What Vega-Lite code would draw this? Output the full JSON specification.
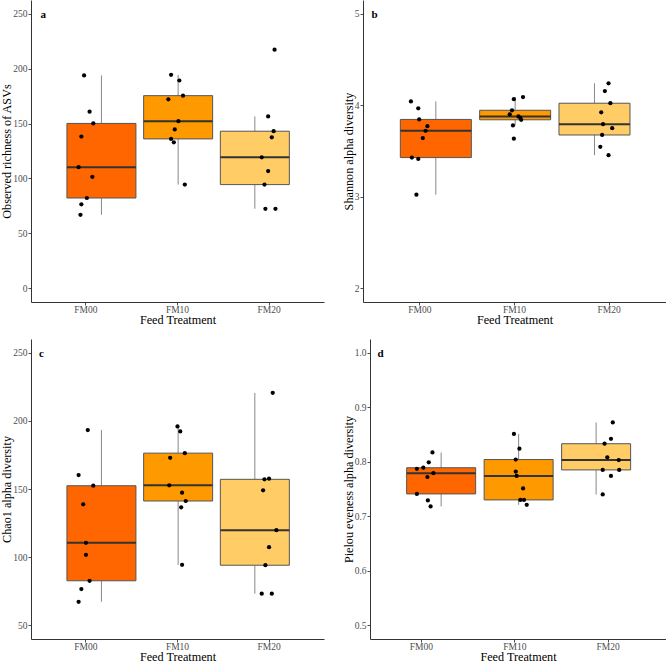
{
  "$schema": "https://vega.github.io/schema/vega-lite/v6.json",
  "padding": {"left": 0, "top": 0, "right": 0, "bottom": 0},
  "background": "white",
  "datasets": {
    "a": [
      {"group": "FM00", "value": 193.8, "jitter": -0.02},
      {"group": "FM00", "value": 160.8, "jitter": 0.04},
      {"group": "FM00", "value": 150.1, "jitter": 0.08},
      {"group": "FM00", "value": 138.1, "jitter": -0.05},
      {"group": "FM00", "value": 110.3, "jitter": -0.08},
      {"group": "FM00", "value": 101.5, "jitter": 0.07},
      {"group": "FM00", "value": 82.2, "jitter": 0.01},
      {"group": "FM00", "value": 76.4, "jitter": -0.05},
      {"group": "FM00", "value": 66.9, "jitter": -0.06},
      {"group": "FM10", "value": 194.4, "jitter": -0.07},
      {"group": "FM10", "value": 189.2, "jitter": 0.02},
      {"group": "FM10", "value": 175.4, "jitter": 0.06},
      {"group": "FM10", "value": 172.1, "jitter": -0.1},
      {"group": "FM10", "value": 152.2, "jitter": 0.01},
      {"group": "FM10", "value": 144.6, "jitter": -0.03},
      {"group": "FM10", "value": 136.0, "jitter": -0.07},
      {"group": "FM10", "value": 132.9, "jitter": -0.04},
      {"group": "FM10", "value": 94.4, "jitter": 0.08},
      {"group": "FM20", "value": 217.3, "jitter": 0.06},
      {"group": "FM20", "value": 156.5, "jitter": -0.01},
      {"group": "FM20", "value": 143.0, "jitter": 0.05},
      {"group": "FM20", "value": 137.5, "jitter": 0.03},
      {"group": "FM20", "value": 119.2, "jitter": -0.08},
      {"group": "FM20", "value": 106.7, "jitter": -0.01},
      {"group": "FM20", "value": 94.4, "jitter": -0.05},
      {"group": "FM20", "value": 72.4, "jitter": -0.04},
      {"group": "FM20", "value": 72.4, "jitter": 0.07}
    ],
    "b": [
      {"group": "FM00", "value": 4.041, "jitter": -0.08},
      {"group": "FM00", "value": 3.967, "jitter": 0.0},
      {"group": "FM00", "value": 3.845, "jitter": 0.01},
      {"group": "FM00", "value": 3.771, "jitter": 0.1},
      {"group": "FM00", "value": 3.72, "jitter": 0.08},
      {"group": "FM00", "value": 3.642, "jitter": 0.05},
      {"group": "FM00", "value": 3.428, "jitter": -0.07},
      {"group": "FM00", "value": 3.413, "jitter": 0.0},
      {"group": "FM00", "value": 3.022, "jitter": -0.02},
      {"group": "FM10", "value": 4.089, "jitter": 0.11},
      {"group": "FM10", "value": 4.066, "jitter": 0.01},
      {"group": "FM10", "value": 3.945, "jitter": -0.01},
      {"group": "FM10", "value": 3.9, "jitter": -0.035},
      {"group": "FM10", "value": 3.878, "jitter": 0.06},
      {"group": "FM10", "value": 3.863, "jitter": 0.08},
      {"group": "FM10", "value": 3.841, "jitter": 0.09},
      {"group": "FM10", "value": 3.779, "jitter": 0.0},
      {"group": "FM10", "value": 3.635, "jitter": 0.01},
      {"group": "FM20", "value": 4.24, "jitter": 0.01},
      {"group": "FM20", "value": 4.155, "jitter": -0.03},
      {"group": "FM20", "value": 4.022, "jitter": 0.03},
      {"group": "FM20", "value": 3.923, "jitter": -0.07},
      {"group": "FM20", "value": 3.793, "jitter": -0.05},
      {"group": "FM20", "value": 3.749, "jitter": 0.05},
      {"group": "FM20", "value": 3.675, "jitter": -0.06},
      {"group": "FM20", "value": 3.546, "jitter": -0.08},
      {"group": "FM20", "value": 3.454, "jitter": 0.01}
    ],
    "c": [
      {"group": "FM00", "value": 193.2, "jitter": 0.02},
      {"group": "FM00", "value": 160.2, "jitter": -0.08},
      {"group": "FM00", "value": 152.4, "jitter": 0.08},
      {"group": "FM00", "value": 138.8, "jitter": -0.03},
      {"group": "FM00", "value": 110.5, "jitter": 0.0},
      {"group": "FM00", "value": 101.7, "jitter": 0.0},
      {"group": "FM00", "value": 82.7, "jitter": 0.04},
      {"group": "FM00", "value": 76.6, "jitter": -0.05},
      {"group": "FM00", "value": 67.3, "jitter": -0.08},
      {"group": "FM10", "value": 195.9, "jitter": 0.0},
      {"group": "FM10", "value": 192.2, "jitter": 0.03},
      {"group": "FM10", "value": 176.3, "jitter": 0.08},
      {"group": "FM10", "value": 172.9, "jitter": -0.08},
      {"group": "FM10", "value": 152.7, "jitter": -0.09},
      {"group": "FM10", "value": 147.3, "jitter": 0.05},
      {"group": "FM10", "value": 141.2, "jitter": 0.09},
      {"group": "FM10", "value": 136.6, "jitter": 0.04},
      {"group": "FM10", "value": 94.4, "jitter": 0.05},
      {"group": "FM20", "value": 220.5, "jitter": 0.04},
      {"group": "FM20", "value": 157.1, "jitter": -0.05},
      {"group": "FM20", "value": 157.6, "jitter": 0.0},
      {"group": "FM20", "value": 149.0, "jitter": -0.065},
      {"group": "FM20", "value": 119.8, "jitter": 0.08},
      {"group": "FM20", "value": 107.3, "jitter": 0.0},
      {"group": "FM20", "value": 94.1, "jitter": -0.04},
      {"group": "FM20", "value": 73.2, "jitter": -0.08},
      {"group": "FM20", "value": 73.2, "jitter": 0.03}
    ],
    "d": [
      {"group": "FM00", "value": 0.817, "jitter": 0.13},
      {"group": "FM00", "value": 0.799, "jitter": 0.09},
      {"group": "FM00", "value": 0.787, "jitter": -0.04},
      {"group": "FM00", "value": 0.789, "jitter": 0.03},
      {"group": "FM00", "value": 0.779, "jitter": 0.14},
      {"group": "FM00", "value": 0.772, "jitter": 0.075},
      {"group": "FM00", "value": 0.741, "jitter": -0.04},
      {"group": "FM00", "value": 0.729, "jitter": 0.08},
      {"group": "FM00", "value": 0.718, "jitter": 0.11},
      {"group": "FM10", "value": 0.851, "jitter": 0.0},
      {"group": "FM10", "value": 0.824, "jitter": 0.06},
      {"group": "FM10", "value": 0.804, "jitter": 0.02},
      {"group": "FM10", "value": 0.782, "jitter": 0.02},
      {"group": "FM10", "value": 0.774, "jitter": 0.03},
      {"group": "FM10", "value": 0.751, "jitter": 0.1},
      {"group": "FM10", "value": 0.73, "jitter": 0.07},
      {"group": "FM10", "value": 0.73, "jitter": 0.11},
      {"group": "FM10", "value": 0.721, "jitter": 0.14},
      {"group": "FM20", "value": 0.872, "jitter": 0.06},
      {"group": "FM20", "value": 0.842, "jitter": 0.04},
      {"group": "FM20", "value": 0.833, "jitter": -0.03},
      {"group": "FM20", "value": 0.808, "jitter": 0.0},
      {"group": "FM20", "value": 0.803, "jitter": 0.125},
      {"group": "FM20", "value": 0.785, "jitter": -0.05},
      {"group": "FM20", "value": 0.785, "jitter": 0.13},
      {"group": "FM20", "value": 0.774, "jitter": 0.04},
      {"group": "FM20", "value": 0.74, "jitter": -0.05}
    ]
  },
  "spacing": 13,
  "vconcat": [
    {
      "bounds": "flush",
      "spacing": 39,
      "hconcat": [
        {
          "width": 293, "height": 302,
          "data": {"name": "a"},
          "title": {"text": "a", "anchor": "start", "frame": "group", "offset": -29, "dx": 9.5, "baseline": "alphabetic", "fontSize": 11, "fontWeight": "bold", "font": "Liberation Serif", "color": "black"},
          "layer": [
            {
              "mark": {"type": "boxplot", "extent": 1.5, "outliers": false, "size": 69, "opacity": 1, "box": {"stroke": "#555555", "strokeWidth": 1}, "median": {"color": "#333333", "thickness": 2}, "rule": {"color": "#888888", "strokeWidth": 1}},
              "encoding": {
                "x": {"field": "group", "type": "nominal", "scale": {"paddingInner": 0, "paddingOuter": 0.41, "align": 0.51}, "axis": null},
                "y": {"field": "value", "type": "quantitative", "scale": {"domain": [-12.5, 262.5], "nice": false, "zero": false}, "axis": {"title": "Observed richness of ASVs", "values": [0, 50, 100, 150, 200, 250]}},
                "color": {"field": "group", "type": "nominal", "scale": {"domain": ["FM00", "FM10", "FM20"], "range": ["#FF6600", "#FF9900", "#FFCC66"]}, "legend": null}
              }
            },
            {
              "mark": {"type": "point", "filled": true, "size": 18, "color": "black", "opacity": 1},
              "encoding": {
                "x": {"field": "group", "type": "nominal", "scale": {"paddingInner": 0, "paddingOuter": 0.1}, "axis": {"title": "Feed Treatment", "labelAngle": 0}},
                "xOffset": {"field": "jitter", "type": "quantitative", "scale": {"domain": [-0.5, 0.5]}},
                "y": {"field": "value", "type": "quantitative"}
              }
            }
          ],
          "resolve": {"scale": {"x": "independent"}}
        },
        {
          "width": 303, "height": 302,
          "data": {"name": "b"},
          "title": {"text": "b", "anchor": "start", "frame": "group", "offset": -29, "dx": 8.5, "baseline": "alphabetic", "fontSize": 11, "fontWeight": "bold", "font": "Liberation Serif", "color": "black"},
          "layer": [
            {
              "mark": {"type": "boxplot", "extent": 1.5, "outliers": false, "size": 71, "opacity": 1, "box": {"stroke": "#555555", "strokeWidth": 1}, "median": {"color": "#333333", "thickness": 2}, "rule": {"color": "#888888", "strokeWidth": 1}},
              "encoding": {
                "x": {"field": "group", "type": "nominal", "scale": {"paddingInner": 0, "paddingOuter": 0.41, "align": 0.51}, "axis": null},
                "y": {"field": "value", "type": "quantitative", "scale": {"domain": [1.85, 5.15], "nice": false, "zero": false}, "axis": {"title": "Shannon alpha diversity", "values": [2, 3, 4, 5], "format": "d"}},
                "color": {"field": "group", "type": "nominal", "scale": {"domain": ["FM00", "FM10", "FM20"], "range": ["#FF6600", "#FF9900", "#FFCC66"]}, "legend": null}
              }
            },
            {
              "mark": {"type": "point", "filled": true, "size": 18, "color": "black", "opacity": 1},
              "encoding": {
                "x": {"field": "group", "type": "nominal", "scale": {"paddingInner": 0, "paddingOuter": 0.1}, "axis": {"title": "Feed Treatment", "labelAngle": 0}},
                "xOffset": {"field": "jitter", "type": "quantitative", "scale": {"domain": [-0.5, 0.5]}},
                "y": {"field": "value", "type": "quantitative"}
              }
            }
          ],
          "resolve": {"scale": {"x": "independent"}}
        }
      ]
    },
    {
      "bounds": "flush",
      "spacing": 46,
      "hconcat": [
        {
          "width": 293, "height": 300,
          "data": {"name": "c"},
          "title": {"text": "c", "anchor": "start", "frame": "group", "offset": -29, "dx": 8, "baseline": "alphabetic", "fontSize": 11, "fontWeight": "bold", "font": "Liberation Serif", "color": "black"},
          "layer": [
            {
              "mark": {"type": "boxplot", "extent": 1.5, "outliers": false, "size": 69, "opacity": 1, "box": {"stroke": "#555555", "strokeWidth": 1}, "median": {"color": "#333333", "thickness": 2}, "rule": {"color": "#888888", "strokeWidth": 1}},
              "encoding": {
                "x": {"field": "group", "type": "nominal", "scale": {"paddingInner": 0, "paddingOuter": 0.41, "align": 0.51}, "axis": null},
                "y": {"field": "value", "type": "quantitative", "scale": {"domain": [40, 260], "nice": false, "zero": false}, "axis": {"title": "Chao1 alpha diversity", "values": [50, 100, 150, 200, 250]}},
                "color": {"field": "group", "type": "nominal", "scale": {"domain": ["FM00", "FM10", "FM20"], "range": ["#FF6600", "#FF9900", "#FFCC66"]}, "legend": null}
              }
            },
            {
              "mark": {"type": "point", "filled": true, "size": 18, "color": "black", "opacity": 1},
              "encoding": {
                "x": {"field": "group", "type": "nominal", "scale": {"paddingInner": 0, "paddingOuter": 0.1}, "axis": {"title": "Feed Treatment", "labelAngle": 0}},
                "xOffset": {"field": "jitter", "type": "quantitative", "scale": {"domain": [-0.5, 0.5]}},
                "y": {"field": "value", "type": "quantitative"}
              }
            }
          ],
          "resolve": {"scale": {"x": "independent"}}
        },
        {
          "width": 296, "height": 300,
          "data": {"name": "d"},
          "title": {"text": "d", "anchor": "start", "frame": "group", "offset": -29, "dx": 7.5, "baseline": "alphabetic", "fontSize": 11, "fontWeight": "bold", "font": "Liberation Serif", "color": "black"},
          "layer": [
            {
              "mark": {"type": "boxplot", "extent": 1.5, "outliers": false, "size": 69, "opacity": 1, "box": {"stroke": "#555555", "strokeWidth": 1}, "median": {"color": "#333333", "thickness": 2}, "rule": {"color": "#888888", "strokeWidth": 1}},
              "encoding": {
                "x": {"field": "group", "type": "nominal", "scale": {"paddingInner": 0, "paddingOuter": 0.41, "align": 0.51}, "axis": null},
                "y": {"field": "value", "type": "quantitative", "scale": {"domain": [0.475, 1.025], "nice": false, "zero": false}, "axis": {"title": "Pielou eveness alpha diversity", "values": [0.5, 0.6, 0.7, 0.8, 0.9, 1.0], "format": ".1f"}},
                "color": {"field": "group", "type": "nominal", "scale": {"domain": ["FM00", "FM10", "FM20"], "range": ["#FF6600", "#FF9900", "#FFCC66"]}, "legend": null}
              }
            },
            {
              "mark": {"type": "point", "filled": true, "size": 18, "color": "black", "opacity": 1},
              "encoding": {
                "x": {"field": "group", "type": "nominal", "scale": {"paddingInner": 0, "paddingOuter": 0.085, "align": 0.3}, "axis": {"title": "Feed Treatment", "labelAngle": 0}},
                "xOffset": {"field": "jitter", "type": "quantitative", "scale": {"domain": [-0.5, 0.5]}},
                "y": {"field": "value", "type": "quantitative"}
              }
            }
          ],
          "resolve": {"scale": {"x": "independent"}}
        }
      ]
    }
  ],
  "config": {
    "font": "Liberation Serif",
    "view": {"stroke": null},
    "axis": {
      "grid": false,
      "domainColor": "#333333",
      "domainWidth": 1,
      "tickColor": "#4D4D4D",
      "tickSize": 3,
      "tickWidth": 1,
      "labelColor": "#4D4D4D",
      "labelFont": "Liberation Serif",
      "labelFontSize": 9.5,
      "titleFont": "Liberation Serif",
      "titleFontSize": 12.2,
      "titleFontWeight": "normal",
      "titleColor": "black"
    },
    "axisX": {"labelPadding": -1, "titlePadding": 0},
    "axisY": {"labelPadding": 1, "titlePadding": -1}
  }
}
